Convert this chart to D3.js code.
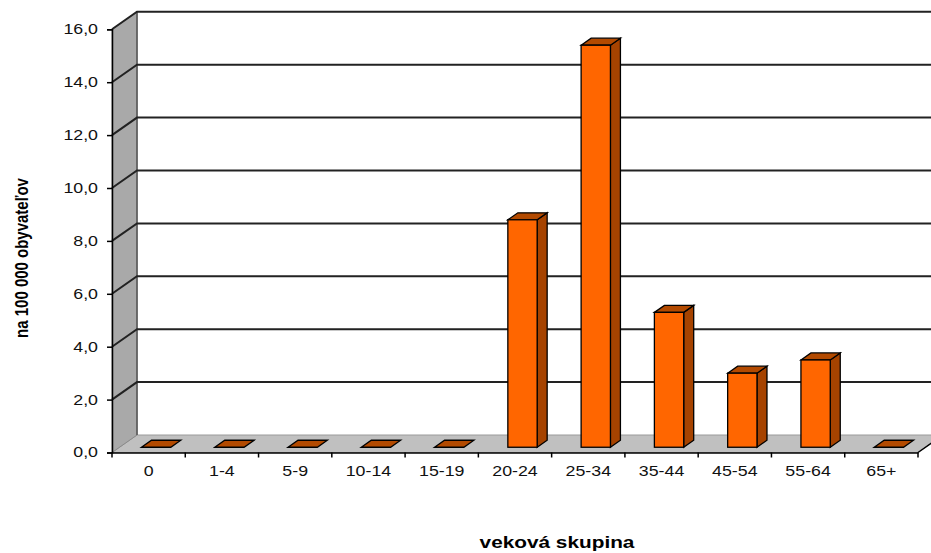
<!DOCTYPE html>
<html><head><meta charset="utf-8">
<script src="https://cdn.jsdelivr.net/npm/d3@7"></script>
<style>body{margin:0;background:#fff}svg{display:block}text{font-family:"Liberation Sans",Arial,sans-serif}</style>
</head><body><svg id="c" width="931" height="553"></svg>
<script>
const categories = ["0","1-4","5-9","10-14","15-19","20-24","25-34","35-44","45-54","55-64","65+"];
const values = [0,0,0,0,0,8.6,15.2,5.1,2.8,3.3,0];
const yTicks = [0,2,4,6,8,10,12,14,16];
const yTitle = "na 100 000 obyvateľov";
const xTitle = "veková skupina";

const SX = 1.27; // horizontal text stretch
const svg = d3.select("#c");
const x = d3.scaleBand().domain(categories).range([112, 918]).paddingInner(0).paddingOuter(0);
const y = d3.scaleLinear().domain([0, 16]).range([452.5, 29.3]);
const DX = 25, DY = -17.5;           // full depth
const bOff = 0.3, bDep = 0.4;        // bar position within depth
const bw = x.bandwidth() * 0.4;

// floor
svg.append("path")
  .attr("d", `M${x.range()[0]},${y(0)}L${x.range()[1]},${y(0)}L${x.range()[1]+DX},${y(0)+DY}L${x.range()[0]+DX},${y(0)+DY}Z`)
  .attr("fill", "#c0c0c0").attr("stroke", "#9a9a9a").attr("stroke-width", 1);
// left wall
svg.append("path")
  .attr("d", `M112,${y(0)}L112,${y(16)}L${112+DX},${y(16)+DY}L${112+DX},${y(0)+DY}Z`)
  .attr("fill", "#a9a9a9").attr("stroke", "#8a8a8a");
// back wall edge
svg.append("line").attr("x1", 112+DX).attr("x2", 112+DX).attr("y1", y(16)+DY).attr("y2", y(0)+DY)
  .attr("stroke", "#555").attr("stroke-width", 1.5);
// gridlines
yTicks.filter(v => v > 0).forEach(v => {
  svg.append("path")
    .attr("d", `M112,${y(v)}L${112+DX},${y(v)+DY}L${918+DX},${y(v)+DY}`)
    .attr("fill", "none").attr("stroke", "#222").attr("stroke-width", 2);
});

// bars
const g = svg.append("g");
categories.forEach((c, i) => {
  const v = values[i];
  const x0 = x(c) + x.bandwidth()/2 - bw/2 + DX*bOff;
  const yb = y(0) + DY*bOff;
  const yt = yb - (y(0) - y(v));
  const dx = DX*bDep, dy = DY*bDep;
  const stroke = "#000";
  if (v > 0) {
    g.append("path").attr("d", `M${x0+bw},${yt}L${x0+bw+dx},${yt+dy}L${x0+bw+dx},${yb+dy}L${x0+bw},${yb}Z`)
      .attr("fill", "#a64300").attr("stroke", stroke).attr("stroke-width", 1.3);
    g.append("path").attr("d", `M${x0},${yt}L${x0+dx},${yt+dy}L${x0+bw+dx},${yt+dy}L${x0+bw},${yt}Z`)
      .attr("fill", "#b34a00").attr("stroke", stroke).attr("stroke-width", 1.3);
    g.append("rect").attr("x", x0).attr("y", yt).attr("width", bw).attr("height", yb - yt)
      .attr("fill", "#ff6600").attr("stroke", stroke).attr("stroke-width", 1.3);
  } else {
    g.append("path").attr("d", `M${x0},${yb}L${x0+dx},${yb+dy}L${x0+bw+dx},${yb+dy}L${x0+bw},${yb}Z`)
      .attr("fill", "#b34a00").attr("stroke", stroke).attr("stroke-width", 1.3);
  }
});

// y axis
const ya = svg.append("g").attr("transform", "translate(112,0)")
  .call(d3.axisLeft(y).tickValues(yTicks).tickSize(5).tickPadding(9)
    .tickFormat(d => d3.format(".1f")(d).replace(".", ",")));
ya.select(".domain").attr("stroke", "#000").attr("stroke-width", 1.5);
ya.selectAll(".tick line").attr("stroke", "#000").attr("stroke-width", 1.5);
ya.selectAll("text").attr("font-size", 14).attr("fill", "#111")
  .attr("font-family", "Liberation Sans, Arial, sans-serif")
  .attr("x", -14/SX).attr("transform", `scale(${SX},1)`);

// x axis
const xa = svg.append("g").attr("transform", `translate(0,${y(0)})`)
  .call(d3.axisBottom(x).tickSize(0).tickPadding(14));
xa.select(".domain").attr("stroke", "#000").attr("stroke-width", 1.5);
xa.selectAll("text").attr("font-size", 14).attr("fill", "#111")
  .attr("font-family", "Liberation Sans, Arial, sans-serif")
  .attr("transform", `scale(${SX},1)`);
// boundary ticks
const bounds = categories.map(c => x(c)).concat([x.range()[1]]);
svg.append("g").selectAll("line").data(bounds).join("line")
  .attr("x1", d => d).attr("x2", d => d).attr("y1", y(0)).attr("y2", y(0)+5)
  .attr("stroke", "#000").attr("stroke-width", 1.5);
// right floor edge
svg.append("line").attr("x1", 918).attr("y1", y(0)).attr("x2", 918+DX).attr("y2", y(0)+DY)
  .attr("stroke", "#000").attr("stroke-width", 1.5);

// titles
svg.append("text").attr("transform", `translate(557,548) scale(1.3,1)`).attr("text-anchor", "middle")
  .attr("font-size", 16).attr("font-weight", "bold").attr("fill", "#000").text(xTitle);
svg.append("text").attr("transform", `translate(28,258) scale(${SX},1) rotate(-90)`).attr("text-anchor", "middle")
  .attr("font-size", 15).attr("font-weight", "bold").attr("fill", "#000").text(yTitle);
</script></body></html>
